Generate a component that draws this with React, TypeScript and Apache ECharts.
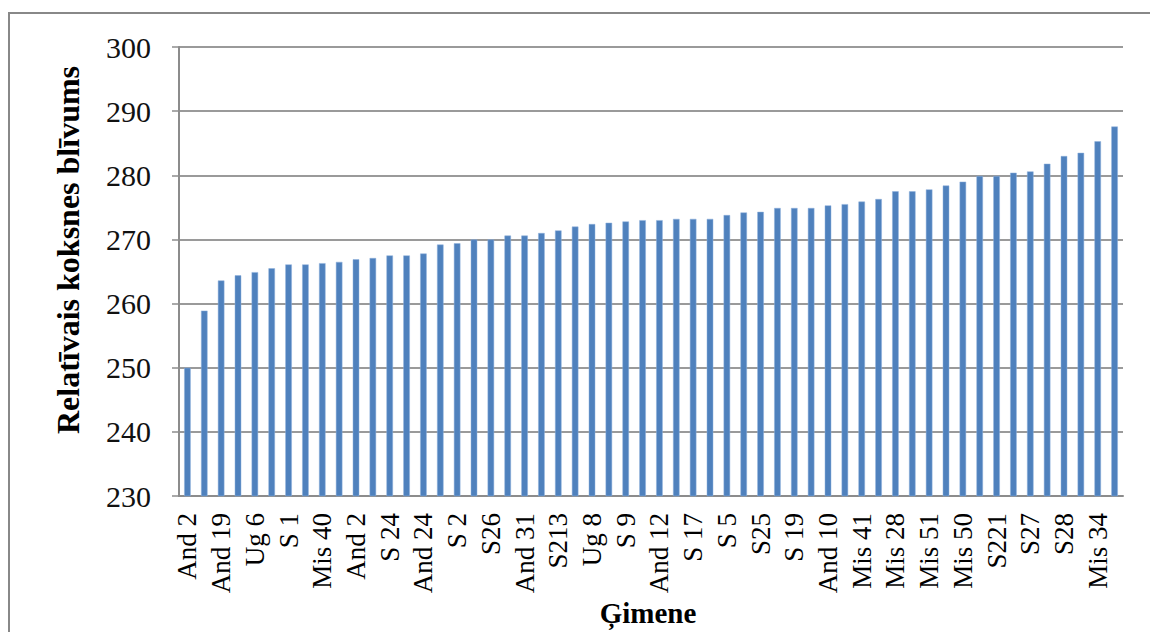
import React, { useEffect, useRef } from "react";
import * as echarts from "echarts";

// Family codes, ordered by relative wood density
const families: string[] = [
  "And 2", "", "And 19", "", "Ug 6", "", "S 1", "", "Mis 40", "",
  "And 2", "", "S 24", "", "And 24", "", "S 2", "", "S26", "",
  "And 31", "", "S213", "", "Ug 8", "", "S 9", "", "And 12", "",
  "S 17", "", "S 5", "", "S25", "", "S 19", "", "And 10", "",
  "Mis 41", "", "Mis 28", "", "Mis 51", "", "Mis 50", "", "S221", "",
  "S27", "", "S28", "", "Mis 34", "",
];

// Relative wood density per family
const density: number[] = [
  250.0, 258.9, 263.6, 264.4, 264.9, 265.5, 266.1, 266.1, 266.3, 266.5,
  266.9, 267.1, 267.5, 267.5, 267.8, 269.2, 269.4, 270.0, 270.0, 270.6,
  270.6, 271.0, 271.4, 272.0, 272.4, 272.6, 272.8, 273.0, 273.0, 273.2,
  273.2, 273.2, 273.8, 274.2, 274.3, 274.9, 274.9, 274.9, 275.3, 275.5,
  275.9, 276.3, 277.5, 277.5, 277.8, 278.4, 279.0, 279.9, 279.9, 280.4,
  280.6, 281.8, 283.0, 283.5, 285.3, 287.6,
];

const yAxisTitle = "Relatīvais koksnes blīvums";
const xAxisTitle = "Ģimene";

const serif = "'Liberation Serif', 'Times New Roman', serif";

export default function App() {
  const ref = useRef<HTMLDivElement>(null);

  useEffect(() => {
    if (!ref.current) return;
    const chart = echarts.init(ref.current, undefined, { renderer: "svg" });
    chart.setOption({
      animation: false,
      backgroundColor: "#ffffff",
      grid: { left: 179, right: 27, top: 47, bottom: 136, containLabel: false },
      xAxis: {
        type: "category",
        data: families.map((f, i) => (f === "" ? `#${i}` : f)),
        axisLine: { show: true, lineStyle: { color: "#8c8c8c", width: 2 } },
        axisTick: { show: false },
        axisLabel: {
          interval: 0,
          rotate: 90,
          margin: 17,
          fontFamily: serif,
          fontSize: 27,
          color: "#000",
          formatter: (v: string) => (v.startsWith("#") ? "" : v),
        },
      },
      yAxis: {
        type: "value",
        min: 230,
        max: 300,
        interval: 10,
        axisLine: { show: true, lineStyle: { color: "#8c8c8c", width: 2 } },
        axisTick: { show: true, length: 7, lineStyle: { color: "#8c8c8c", width: 1.5 } },
        splitLine: { show: true, lineStyle: { color: "#9a9a9a", width: 2 } },
        axisLabel: {
          margin: 28,
          fontFamily: serif,
          fontSize: 30,
          color: "#111",
        },
      },
      series: [
        {
          type: "bar",
          data: density,
          barWidth: 6.5,
          itemStyle: { color: "#4f81bd", borderColor: "#8fb0dc", borderWidth: 0.5 },
        },
      ],
      graphic: [
        {
          type: "rect",
          shape: { x: 9, y: 13, width: 1200, height: 700 },
          style: { fill: "none", stroke: "#888888", lineWidth: 2 },
          silent: true,
        },
        {
          type: "text",
          x: 68,
          y: 250,
          rotation: Math.PI / 2,
          style: {
            text: yAxisTitle,
            fontFamily: serif,
            fontWeight: "bold",
            fontSize: 32,
            fill: "#000",
            align: "center",
            verticalAlign: "middle",
          },
        },
        {
          type: "text",
          x: 648,
          y: 613,
          style: {
            text: xAxisTitle,
            fontFamily: serif,
            fontWeight: "bold",
            fontSize: 29,
            fill: "#000",
            align: "center",
            verticalAlign: "middle",
          },
        },
      ],
    });
    return () => chart.dispose();
  }, []);

  return (
    <div
      ref={ref}
      style={{ position: "absolute", left: 0, top: 0, width: 1150, height: 632 }}
    />
  );
}
